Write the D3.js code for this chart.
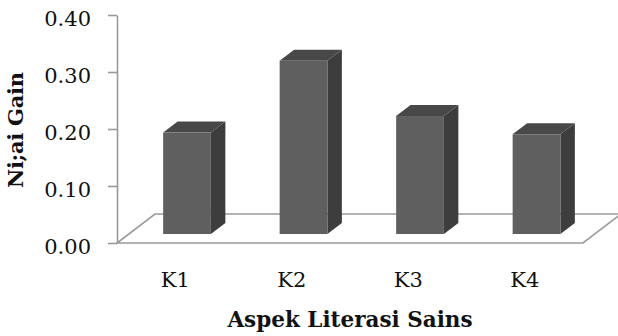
<!DOCTYPE html>
<html>
<head>
<meta charset="utf-8">
<script src="https://cdn.jsdelivr.net/npm/d3@7"></script>
<style>
  html, body { margin: 0; padding: 0; background: #fff; }
  svg { display: block; }
</style>
</head>
<body>
<svg id="chart" width="618" height="336"></svg>
<script>
// Gain per aspect of science literacy
const categories = ["K1", "K2", "K3", "K4"];
const gainValues = [0.178, 0.304, 0.207, 0.175];
const tickValues = [0.00, 0.10, 0.20, 0.30, 0.40];
const xTitle = "Aspek Literasi Sains";
const yTitle = "Ni;ai Gain";

const svg = d3.select("#chart");

// front plane of the 3-D box
const plotLeft = 117, plotRight = 583, plotTop = 15, plotBottom = 243;
// oblique depth vector of the floor
const depthX = 38, depthY = -29;
// bars sit in the middle slab of the depth
const z0 = 0.31, z1 = 0.69;

const x = d3.scaleBand()
  .domain(categories)
  .range([plotLeft, plotRight])
  .paddingInner(0.59)
  .paddingOuter(0.295);

const y = d3.scaleLinear().domain([0, 0.4]).range([plotBottom, plotTop]);

const axisColor = "#9a9a9a";
const serif = "'DejaVu Serif', serif";

// floor
const floor = [
  [plotLeft, plotBottom],
  [plotRight, plotBottom],
  [plotRight + depthX, plotBottom + depthY],
  [plotLeft + depthX, plotBottom + depthY]
];
svg.append("polygon")
  .attr("points", floor.map(p => p.join(",")).join(" "))
  .attr("fill", "#fff")
  .attr("stroke", axisColor)
  .attr("stroke-width", 1.6);

// value axis
const yAxis = d3.axisLeft(y)
  .tickValues(tickValues)
  .tickFormat(d3.format(".2f"))
  .tickSize(9)
  .tickSizeOuter(0);

const gy = svg.append("g")
  .attr("transform", `translate(${plotLeft},0)`)
  .call(yAxis);
gy.select(".domain").attr("stroke", axisColor).attr("stroke-width", 1.6);
gy.selectAll(".tick line").attr("stroke", axisColor).attr("stroke-width", 1.6);
gy.selectAll(".tick text")
  .attr("x", -26)
  .attr("dy", "0.52em")
  .attr("fill", "#111")
  .style("font-family", serif)
  .style("font-size", "21px");

// 3-D columns
const bw = x.bandwidth();
const bdx = (z1 - z0) * depthX, bdy = (z1 - z0) * depthY;

const bars = svg.append("g").selectAll("g")
  .data(categories.map((c, i) => ({ c, v: gainValues[i] })))
  .join("g");

bars.each(function (d) {
  const g = d3.select(this);
  const x0 = x(d.c) + z0 * depthX;
  const x1 = x0 + bw;
  const yb = y(0) + z0 * depthY;
  const yt = y(d.v) + z0 * depthY;
  // side face
  g.append("polygon")
    .attr("points", [[x1, yt], [x1 + bdx, yt + bdy], [x1 + bdx, yb + bdy], [x1, yb]].map(p => p.join(",")).join(" "))
    .attr("fill", "#3d3d3d");
  // top face
  g.append("polygon")
    .attr("points", [[x0, yt], [x0 + bdx, yt + bdy], [x1 + bdx, yt + bdy], [x1, yt]].map(p => p.join(",")).join(" "))
    .attr("fill", "#484848");
  // front face
  g.append("rect")
    .attr("x", x0)
    .attr("y", yt)
    .attr("width", bw)
    .attr("height", yb - yt)
    .attr("fill", "#5f5f5f");
});

// category labels
svg.append("g").selectAll("text")
  .data(categories)
  .join("text")
  .attr("x", d => x(d) + bw / 2)
  .attr("y", 287)
  .attr("text-anchor", "middle")
  .attr("fill", "#111")
  .style("font-family", serif)
  .style("font-size", "21px")
  .text(d => d);

// axis titles
svg.append("text")
  .attr("x", 350)
  .attr("y", 327)
  .attr("text-anchor", "middle")
  .attr("fill", "#111")
  .style("font-family", serif)
  .style("font-weight", "bold")
  .style("font-size", "21.5px")
  .text(xTitle);

svg.append("text")
  .attr("transform", "translate(23,130) rotate(-90)")
  .attr("text-anchor", "middle")
  .attr("fill", "#111")
  .attr("textLength", 116)
  .attr("lengthAdjust", "spacing")
  .style("font-family", serif)
  .style("font-weight", "bold")
  .style("font-size", "21px")
  .text(yTitle);
</script>
</body>
</html>
